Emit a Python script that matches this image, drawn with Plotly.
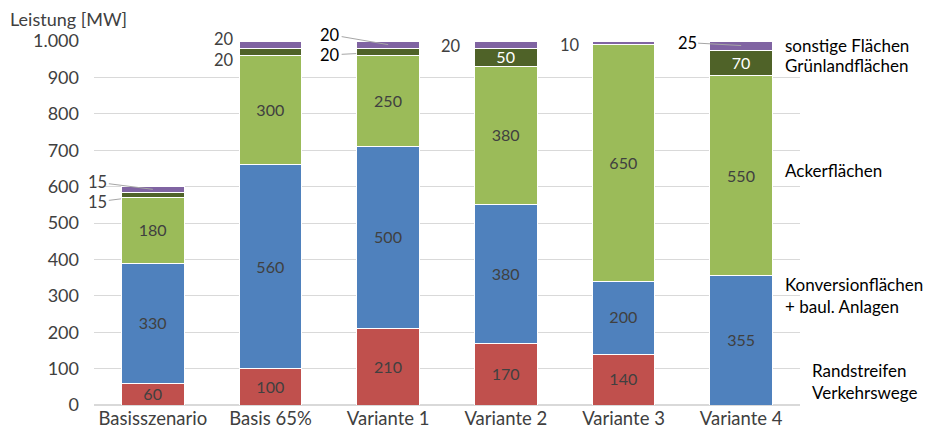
import plotly.graph_objects as go

categories = ["Basisszenario", "Basis 65%", "Variante 1", "Variante 2", "Variante 3", "Variante 4"]
randstreifen = [60, 100, 210, 170, 140, 0]
konversion = [330, 560, 500, 380, 200, 355]
acker = [180, 300, 250, 380, 650, 550]
gruenland = [15, 20, 20, 50, 0, 70]
sonstige = [15, 20, 20, 20, 10, 25]

series = [
    ("Randstreifen Verkehrswege", randstreifen, "#C0504D", "#404040"),
    ("Konversionflächen + baul. Anlagen", konversion, "#4F81BD", "#404040"),
    ("Ackerflächen", acker, "#9BBB59", "#404040"),
    ("Grünlandflächen", gruenland, "#4F6228", "#FFFFFF"),
    ("sonstige Flächen", sonstige, "#8064A2", "#404040"),
]

FONT = "Lato"
fig = go.Figure()
for name, vals, col, tcol in series:
    fig.add_trace(go.Bar(
        x=categories, y=vals, name=name,
        marker=dict(color=col, line=dict(color="white", width=1)),
        text=[str(v) if v >= 50 else "" for v in vals],
        textposition="inside", insidetextanchor="middle", textangle=0,
        textfont=dict(family=FONT, size=16.5, color=tcol),
        hoverinfo="skip",
    ))

# outside labels for small segments: (category index, series index, ax, ay, arrow, standoff, color)
outside = [
    (0, 4, -55, -7, True, 0, "#404040"),
    (0, 3, -55, 7, True, 32, "#404040"),
    (1, 4, -47, -6, False, 0, "#404040"),
    (1, 3, -47, 8, False, 0, "#404040"),
    (2, 4, -58, -10, True, 0, "#000000"),
    (2, 3, -58, 3, True, 32, "#000000"),
    (3, 4, -55, 1, False, 0, "#404040"),
    (4, 4, -54, 2, False, 0, "#404040"),
    (5, 4, -54, -3, True, 0, "#000000"),
]
annotations = []
for ci, si, ax, ay, arrow, so, col in outside:
    base = sum(series[k][1][ci] for k in range(si))
    v = series[si][1][ci]
    mid = base + v / 2
    annotations.append(dict(
        x=categories[ci], y=mid, xref="x", yref="y", text=str(v),
        showarrow=arrow, ax=ax, ay=ay, axref="pixel", ayref="pixel",
        arrowhead=0, arrowwidth=1, arrowcolor="#A6A6A6", standoff=so,
        font=dict(family=FONT, size=16.5, color=col),
        xshift=0 if arrow else ax, yshift=0 if arrow else -ay,
    ))

# right side series labels
right_labels = [
    ("sonstige Flächen", 988, 0.0),
    ("Grünlandflächen", 933, 0.0),
    ("Ackerflächen", 643, 0.0),
    ("Konversionflächen<br>+ baul. Anlagen", 300, 0.0),
    ("Randstreifen<br>Verkehrswege", 65, 27),
]
for txt, yv, xs in right_labels:
    annotations.append(dict(
        x=1.0, y=yv, xref="paper", yref="y", text=txt, showarrow=False,
        xanchor="left", yanchor="middle", align="left", xshift=-17 + xs,
        font=dict(family=FONT, size=17, color="#000000"),
    ))

annotations.append(dict(
    x=0, y=1, xref="paper", yref="paper", text="Leistung [MW]", showarrow=False,
    xanchor="left", yanchor="bottom", xshift=-86, yshift=9,
    font=dict(family=FONT, size=18, color="#404040"),
))

fig.update_layout(
    barmode="stack", bargap=0.47, showlegend=False,
    width=935, height=441,
    margin=dict(l=86, r=143, t=33, b=44, autoexpand=False),
    paper_bgcolor="white", plot_bgcolor="white",
    separators=",.",
    annotations=annotations,
    uniformtext=dict(minsize=16, mode="show"),
    font=dict(family=FONT, size=16, color="#404040"),
)
fig.update_xaxes(showgrid=False, ticks="", automargin=False, range=[-0.5, 5.5],
                 tickfont=dict(family=FONT, size=18.5, color="#404040"))
fig.update_yaxes(range=[0, 1000], dtick=100, tickformat=",d", showgrid=True, gridcolor="#D9D9D9",
                 zeroline=True, zerolinecolor="#D9D9D9", ticks="", ticklabelstandoff=14, automargin=False,
                 tickfont=dict(family=FONT, size=18, color="#404040"))
fig.write_html("out.html")
